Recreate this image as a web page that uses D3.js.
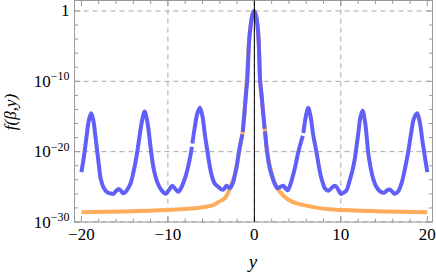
<!DOCTYPE html>
<html><head><meta charset="utf-8">
<script src="https://cdn.jsdelivr.net/npm/d3@7"></script>
<style>html,body{margin:0;padding:0;background:#fff;}svg{display:block;}</style>
</head><body>
<script>
// Blue curve: y positions and log10 f(β,y); null = break in the drawn line
const blueY = [-20.0,-19.7,-19.4,-19.15,-18.87,-18.6,-18.4,-18.17,-17.95,-17.78,-17.4,-17.0,-16.6,-16.32,-16.0,-15.7,-15.4,-15.17,-14.8,-14.55,-14.31,-14.0,-13.78,-13.55,-13.3,-13.0,-12.69,-12.4,-12.15,-11.93,-11.6,-11.24,-10.9,-10.5,-10.25,-9.9,-9.5,-9.15,-8.8,-8.45,-8.03,-7.75,-7.46,-7.22,-7.2,-7.17,-6.9,-6.6,-6.3,-6.0,-5.72,-5.41,-5.2,-4.95,-4.6,-4.18,-3.9,-3.6,-3.21,-2.83,-2.5,-2.25,-2.0,-1.79,-1.6,-1.39,-1.37,-1.35,-1.15,-0.98,-0.83,-0.72,-0.6,-0.45,-0.3,-0.15,-0.05,0.1,0.25,0.38,0.49,0.58,0.67,0.83,1.0,1.19,1.21,1.23,1.48,1.7,1.99,2.3,2.68,3.0,3.33,3.6,3.84,4.1,4.49,4.8,5.07,5.35,5.61,5.64,5.67,5.95,6.22,6.5,6.8,7.0,7.19,7.45,7.65,7.9,8.15,8.54,8.9,9.31,9.65,10.0,10.35,10.66,11.0,11.3,11.62,11.85,12.0,12.25,12.51,12.8,13.0,13.16,13.45,13.73,14.1,14.5,15.0,15.35,15.66,15.95,16.24,16.6,17.02,17.4,17.78,18.1,18.45,18.82,19.1,19.45,19.75,20.0];
const blueLog10 = [-22.9,-20.6,-17.8,-15.6,-14.55,-15.7,-17.6,-20.0,-22.2,-23.8,-25.2,-25.8,-25.95,-26.0,-25.6,-25.3,-25.6,-25.9,-25.6,-25.1,-24.5,-23.0,-21.7,-20.1,-18.0,-15.7,-14.3,-15.6,-17.8,-20.1,-22.7,-24.3,-25.2,-25.8,-26.0,-25.5,-24.85,-25.3,-25.7,-25.1,-23.8,-22.6,-21.0,-19.3,null,-18.85,-16.6,-14.6,-13.75,-15.0,-17.6,-20.1,-21.8,-23.3,-24.5,-25.0,-25.3,-25.4,-24.85,-25.2,-24.5,-23.3,-21.8,-20.1,-18.8,-17.55,null,-17.2,-14.5,-11.9,-10.0,-7.2,-4.1,-2.3,-1.0,-0.25,0,-0.3,-1.0,-2.3,-4.1,-7.0,-10.0,-11.9,-14.3,-16.75,null,-17.1,-20.1,-21.9,-23.3,-24.4,-25.2,-25.0,-24.85,-25.2,-25.5,-24.9,-23.3,-21.7,-20.1,-18.8,-17.75,null,-17.35,-15.0,-13.75,-15.0,-17.6,-18.9,-20.1,-22.0,-23.3,-24.4,-25.2,-25.55,-25.2,-24.85,-25.3,-26.0,-25.8,-25.5,-24.2,-22.9,-21.0,-18.9,-17.6,-15.2,-14.2,-15.8,-18.0,-20.1,-22.3,-23.8,-25.0,-25.6,-25.85,-25.5,-25.4,-25.7,-26.0,-25.7,-24.5,-22.5,-20.1,-17.6,-15.3,-14.55,-15.6,-18.6,-21.0,-22.9];
// Orange curve
const orangeY = [-20,-15,-10,-8.7,-6.5,-4.8,-4.2,-3.4,-2.64,-2.2,-1.79,-1.37,-1.0,-0.6,-0.3,-0.05,0.25,0.49,0.67,0.9,1.21,1.48,2.0,2.37,2.95,3.9,5.0,6.7,8.7,10,15,20];
const orangeLog10 = [-28.6,-28.5,-28.3,-28.2,-28.0,-27.6,-27.2,-26.6,-24.65,-23.0,-20.1,-17.4,-12.3,-4.1,-1.0,0,-1.0,-4.1,-10.0,-13.0,-16.9,-20.0,-23.1,-24.5,-25.7,-26.8,-27.4,-27.85,-28.2,-28.3,-28.5,-28.6];
// Axes ticks
const xMajorTicks = [-20,-10,0,10,20];
const xMinorTicks = [-20,-18,-16,-14,-12,-10,-8,-6,-4,-2,0,2,4,6,8,10,12,14,16,18,20];
const xGrid = [-10,0,10];
const yMajorExps = [0,-10,-20,-30];
const yMinorExps = [0,-2,-4,-6,-8,-10,-12,-14,-16,-18,-20,-22,-24,-26,-28,-30];

const W=436,H=276;
const L=74.5,R=432.5,T=0.5,B=222;
const x=d3.scaleLinear().domain([-20.8,20.6]).range([L,R]);
const y=d3.scaleLog().domain([1e-30,Math.pow(10,1.49)]).range([B,T]);
const svg=d3.select("body").append("svg").attr("width",W).attr("height",H);
const serif="Liberation Serif";
const frameCol="#9a9a9a", gridCol="#a8a8a8";

// grid
svg.append("g").selectAll("line").data(yMajorExps).join("line")
  .attr("x1",L).attr("x2",R).attr("y1",d=>y(Math.pow(10,d))).attr("y2",d=>y(Math.pow(10,d)))
  .attr("stroke",gridCol).attr("stroke-width",1).attr("stroke-dasharray","5,4");
svg.append("g").selectAll("line").data(xGrid).join("line")
  .attr("x1",d=>x(d)).attr("x2",d=>x(d)).attr("y1",T).attr("y2",B)
  .attr("stroke",gridCol).attr("stroke-width",1).attr("stroke-dasharray","5,4");

// frame
svg.append("rect").attr("x",L).attr("y",T).attr("width",R-L).attr("height",B-T)
  .attr("fill","none").attr("stroke",frameCol).attr("stroke-width",1);

// ticks
const tg=svg.append("g").attr("stroke",frameCol).attr("stroke-width",1);
xMinorTicks.forEach(v=>{
  const len = xMajorTicks.includes(v)?6:3.5;
  tg.append("line").attr("x1",x(v)).attr("x2",x(v)).attr("y1",B).attr("y2",B-len);
  tg.append("line").attr("x1",x(v)).attr("x2",x(v)).attr("y1",T).attr("y2",T+len);
});
yMinorExps.forEach(e=>{
  const len = yMajorExps.includes(e)?6:3.5;
  const yy=y(Math.pow(10,e));
  tg.append("line").attr("x1",L).attr("x2",L+len).attr("y1",yy).attr("y2",yy);
  tg.append("line").attr("x1",R).attr("x2",R-len).attr("y1",yy).attr("y2",yy);
});

// curves
const lineGen=d3.line().defined(d=>d[1]!==null)
  .x(d=>x(d[0])).y(d=>y(Math.pow(10,d[1]))).curve(d3.curveCatmullRom.alpha(0.5));
const orangeData=orangeY.map((v,i)=>[v,orangeLog10[i]]);
const blueData=blueY.map((v,i)=>[v,blueLog10[i]]);
svg.append("path").attr("d",lineGen(orangeData)).attr("fill","none")
  .attr("stroke","#ffac5c").attr("stroke-width",4);
svg.append("path").attr("d",lineGen(blueData)).attr("fill","none")
  .attr("stroke","#6060f8").attr("stroke-width",4);

// zero axis line
svg.append("line").attr("x1",x(0)).attr("x2",x(0)).attr("y1",T).attr("y2",B)
  .attr("stroke","#000").attr("stroke-width",1);

// x tick labels
svg.append("g").selectAll("text").data(xMajorTicks).join("text")
  .attr("x",d=>x(d)).attr("y",240).attr("text-anchor","middle")
  .attr("font-family",serif).attr("font-size",17).attr("fill","#000")
  .text(d=>d<0?"\u2212"+Math.abs(d):String(d));

// y tick labels
yMajorExps.forEach(e=>{
  const yy=y(Math.pow(10,e));
  const t=svg.append("text").attr("x",69.5).attr("y",yy+5.5).attr("text-anchor","end")
    .attr("font-family",serif).attr("font-size",17).attr("fill","#000");
  if(e===0){ t.text("1"); }
  else {
    t.append("tspan").text("10");
    t.append("tspan").attr("dy",-6.5).attr("font-size",12).text("\u2212"+Math.abs(e));
  }
});

// axis labels
svg.append("text").attr("x",253).attr("y",268).attr("text-anchor","middle")
  .attr("font-family",serif).attr("font-style","italic").attr("font-size",19).text("y");
svg.append("text").attr("transform","translate(16,112) rotate(-90)").attr("text-anchor","middle")
  .attr("font-family",serif).attr("font-style","italic").attr("font-size",17).text("f(\u03B2,y)");
</script>
</body></html>
